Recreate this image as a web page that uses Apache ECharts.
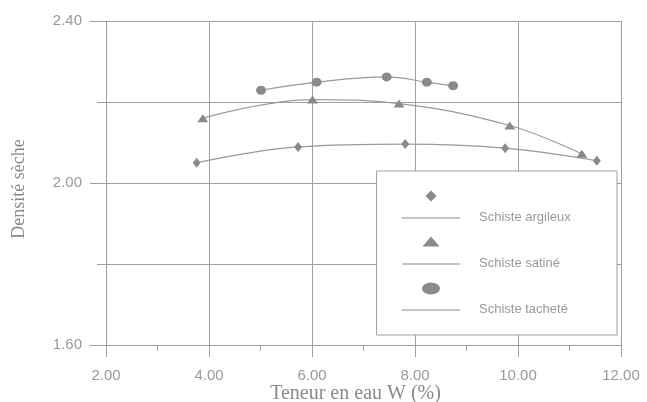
<!DOCTYPE html>
<html>
<head>
<meta charset="utf-8">
<script src="https://cdn.jsdelivr.net/npm/echarts@6/dist/echarts.min.js"></script>
<style>html,body{margin:0;padding:0;background:#fff}#c{width:647px;height:402px}</style>
</head>
<body>
<div id="c"></div>
<script>
// Data
const seriesNames = ['Schiste argileux', 'Schiste satiné', 'Schiste tacheté'];
const argileuxW = [3.76, 5.73, 7.81, 9.75, 11.53];
const argileuxD = [2.050, 2.089, 2.096, 2.086, 2.055];
const satineW = [3.88, 6.01, 7.69, 9.84, 11.24];
const satineD = [2.160, 2.206, 2.196, 2.142, 2.072];
const tacheteW = [5.01, 6.09, 7.45, 8.23, 8.74];
const tacheteD = [2.229, 2.249, 2.262, 2.249, 2.240];
const xTicks = [2, 4, 6, 8, 10, 12];
const yTicks = [1.6, 2.0, 2.4];

const pair = (xs, ys) => xs.map((x, i) => [x, ys[i]]);
const symColor = '#8a8a8a';
const lineColor = '#9a9a9a';
const axisGray = '#a0a0a0';
const lineBar = 'M0,27L58,27L58,28L0,28Z';

const chart = echarts.init(document.getElementById('c'));
chart.setOption({
  animation: false,
  backgroundColor: '#fff',
  grid: { left: 106, right: 26, top: 21, bottom: 57, outerBoundsMode: 'none', containLabel: false },
  xAxis: {
    type: 'value', min: xTicks[0], max: xTicks[xTicks.length - 1], interval: 2,
    name: 'Teneur en eau W (%)', nameLocation: 'middle', nameGap: 39, nameMoveOverlap: false,
    nameTextStyle: { fontFamily: 'Liberation Serif', fontSize: 20, color: '#8a8a8a', padding: [0, 16, 0, 0] },
    axisLine: { show: true, lineStyle: { color: axisGray } },
    axisTick: { show: true, length: 12, lineStyle: { color: axisGray } },
    minorTick: { show: true, splitNumber: 2, length: 6, lineStyle: { color: axisGray } },
    splitLine: { show: true, lineStyle: { color: axisGray } },
    axisLabel: { margin: 23, fontFamily: 'Liberation Sans', fontSize: 15, color: '#999',
      formatter: v => v.toFixed(2) }
  },
  yAxis: {
    type: 'value', min: yTicks[0], max: yTicks[yTicks.length - 1], interval: 0.4,
    name: 'Densité sèche', nameLocation: 'middle', nameGap: 78, nameMoveOverlap: false,
    nameTextStyle: { fontFamily: 'Liberation Serif', fontSize: 18, color: '#8a8a8a', padding: [0, 12, 0, 0] },
    axisLine: { show: true, lineStyle: { color: axisGray } },
    axisTick: { show: true, length: 16, lineStyle: { color: axisGray } },
    minorTick: { show: true, splitNumber: 2, length: 9, lineStyle: { color: axisGray } },
    splitLine: { show: true, lineStyle: { color: axisGray } },
    minorSplitLine: { show: true, lineStyle: { color: axisGray } },
    axisLabel: { margin: 24, fontFamily: 'Liberation Sans', fontSize: 15, color: '#999',
      formatter: v => v.toFixed(2) }
  },
  legend: {
    orient: 'vertical', left: 402, top: 190.4, padding: 0, itemGap: 12,
    itemWidth: 58, itemHeight: 28,
    itemStyle: { borderWidth: 0 },
    formatter: n => '{e|}\n{t|' + n + '}',
    textStyle: {
      fontFamily: 'Liberation Sans', fontSize: 13, color: '#999',
      rich: {
        e: { lineHeight: 27, fontSize: 13 },
        t: { lineHeight: 14, fontSize: 13, color: '#999', fontFamily: 'Liberation Sans', padding: [0, 0, 0, 14] }
      }
    },
    data: [
      { name: seriesNames[0], icon: 'path://M29,0L34.5,5.5L29,11L23.5,5.5Z' + lineBar },
      { name: seriesNames[1], icon: 'path://M29,0L37.5,10L20.5,10Z' + lineBar },
      { name: seriesNames[2], icon: 'path://M20,6A9,6,0,1,1,38,6A9,6,0,1,1,20,6Z' + lineBar }
    ]
  },
  graphic: [{
    type: 'rect', z: 3, left: 376, top: 170.5,
    shape: { width: 240.5, height: 164 },
    style: { fill: '#fff', stroke: axisGray, lineWidth: 1 }
  }],
  series: [
    { name: seriesNames[0], type: 'line', smooth: 0.4, data: pair(argileuxW, argileuxD),
      symbol: 'diamond', symbolSize: [8, 10], z: 5,
      itemStyle: { color: symColor, borderWidth: 0 }, lineStyle: { color: lineColor, width: 1.2 } },
    { name: seriesNames[1], type: 'line', smooth: 0.4, data: pair(satineW, satineD),
      symbol: 'triangle', symbolSize: [11, 8], z: 5,
      itemStyle: { color: symColor, borderWidth: 0 }, lineStyle: { color: lineColor, width: 1.2 } },
    { name: seriesNames[2], type: 'line', smooth: 0.4, data: pair(tacheteW, tacheteD),
      symbol: 'circle', symbolSize: [10, 9], z: 5,
      itemStyle: { color: symColor, borderWidth: 0 }, lineStyle: { color: lineColor, width: 1.2 } }
  ]
});
</script>
</body>
</html>
